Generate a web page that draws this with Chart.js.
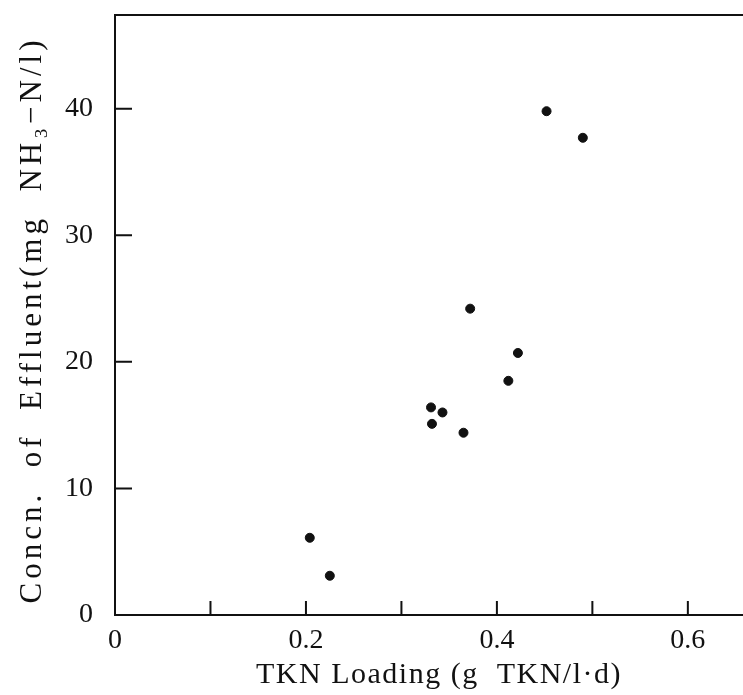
<!DOCTYPE html>
<html>
<head>
<meta charset="utf-8">
<script src="https://cdn.jsdelivr.net/npm/chart.js@4.4.1/dist/chart.umd.min.js"></script>
<style>
  html, body { margin: 0; padding: 0; background: #fff; }
  #wrap { width: 743px; height: 695px; }
</style>
</head>
<body>
<div id="wrap"><canvas id="chart"></canvas></div>
<script>
// data
const tknLoading = [0.204, 0.225, 0.331, 0.332, 0.343, 0.365, 0.372, 0.412, 0.422, 0.452, 0.490];
const effluentNH3 = [6.1, 3.1, 16.4, 15.1, 16.0, 14.4, 24.2, 18.5, 20.7, 39.8, 37.7];
const xLabelValues = [0, 0.2, 0.4, 0.6];
const yLabelValues = [0, 10, 20, 30, 40];
const yTitle = "Concn.  of  Effluent(mg  NH₃−N/l)";
const xTitle = "TKN Loading (g  TKN/l·d)";

const serif = "'Liberation Serif', 'DejaVu Serif', serif";

// inward ticks, top border and the spaced-out axis titles
const frame = {
    id: "frame",
    afterDraw(chart) {
        const ctx = chart.ctx;
        const area = chart.chartArea;
        const xs = chart.scales.x;
        const ys = chart.scales.y;
        ctx.save();
        ctx.strokeStyle = "#111";
        ctx.lineWidth = 2;
        ctx.beginPath();
        xs.ticks.forEach(t => {
            if (t.value === 0) return;
            const px = xs.getPixelForValue(t.value);
            ctx.moveTo(px, area.bottom);
            ctx.lineTo(px, area.bottom - 14);
        });
        ys.ticks.forEach(t => {
            if (t.value === 0) return;
            const py = ys.getPixelForValue(t.value);
            ctx.moveTo(area.left, py);
            ctx.lineTo(area.left + 17, py);
        });
        // frame runs off the right edge, as in the scan
        ctx.moveTo(area.left - 1, area.top);
        ctx.lineTo(chart.width, area.top);
        ctx.moveTo(area.right - 1, area.bottom);
        ctx.lineTo(chart.width, area.bottom);
        ctx.stroke();

        ctx.fillStyle = "#111";
        ctx.textAlign = "center";
        ctx.textBaseline = "middle";
        ctx.font = "30px " + serif;
        ctx.letterSpacing = "1.5px";
        ctx.fillText(xTitle, 439, xs.bottom - 20);

        ctx.translate(33, (area.top + area.bottom) / 2 + 5);
        ctx.rotate(-Math.PI / 2);
        ctx.font = "31px " + serif;
        ctx.letterSpacing = "4px";
        ctx.fillText(yTitle, 0, 0);
        ctx.restore();
    }
};

new Chart(document.getElementById("chart"), {
    type: "scatter",
    data: {
        datasets: [{
            data: tknLoading.map((x, i) => ({ x: x, y: effluentNH3[i] })),
            backgroundColor: "#111",
            borderColor: "#111",
            pointRadius: 4.5,
            pointHoverRadius: 4.5
        }]
    },
    options: {
        responsive: true,
        maintainAspectRatio: false,
        animation: false,
        layout: { padding: { top: 15, right: 0, left: 0, bottom: 0 } },
        plugins: { legend: { display: false }, tooltip: { enabled: false } },
        scales: {
            x: {
                type: "linear",
                min: 0,
                max: 0.652,
                afterFit(scale) {
                    scale.height = 80;
                    scale.paddingLeft = 0;
                    scale.paddingRight = 0;
                },
                border: { display: true, color: "#111", width: 2 },
                grid: { display: false },
                ticks: {
                    stepSize: 0.1,
                    includeBounds: false,
                    autoSkip: false,
                    maxRotation: 0,
                    padding: 1,
                    color: "#111",
                    font: { family: serif, size: 28 },
                    callback: v => {
                        const hit = xLabelValues.find(l => Math.abs(l - v) < 1e-6);
                        return hit === undefined ? "" : String(hit);
                    }
                },
                title: { display: false }
            },
            y: {
                type: "linear",
                min: 0,
                max: 47.4,
                afterFit(scale) {
                    scale.width = 115;
                    scale.paddingTop = 0;
                    scale.paddingBottom = 0;
                },
                border: { display: true, color: "#111", width: 2 },
                grid: { display: false },
                ticks: {
                    stepSize: 10,
                    includeBounds: false,
                    padding: 14,
                    color: "#111",
                    font: { family: serif, size: 28 },
                    callback: v => (yLabelValues.includes(v) ? String(v) : "")
                },
                title: { display: false }
            }
        }
    },
    plugins: [frame]
});
</script>
</body>
</html>
